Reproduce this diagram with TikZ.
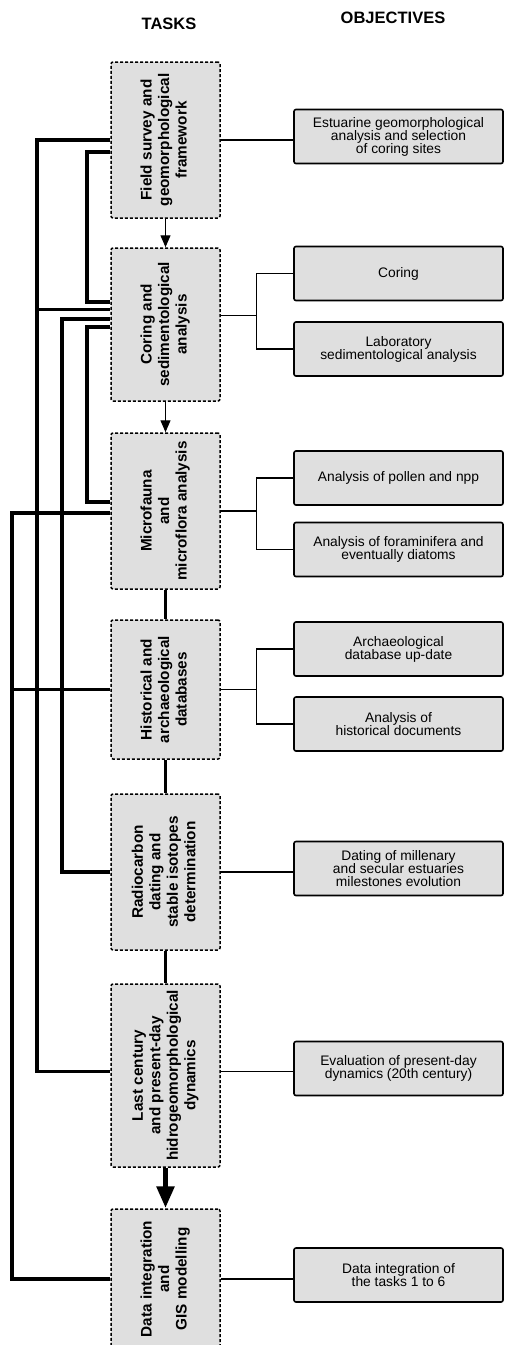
\documentclass[tikz,border=0pt]{standalone}
\usepackage{fontspec}
\setmainfont{Liberation Sans}
\usetikzlibrary{arrows.meta}
\newcommand{\vtext}[1]{\rotatebox{90}{\begin{tabular}{@{}c@{}}#1\end{tabular}}}

\begin{document}
\begin{tikzpicture}[x=1pt,y=-1pt,
  task/.style={draw,densely dashed,line width=1.5pt,fill=gray!25,rounded corners=2pt,minimum width=109pt,inner sep=0pt,font=\bfseries\fontsize{15.3}{17.5}\selectfont},
  obj/.style={draw,line width=1.6pt,fill=gray!25,rounded corners=2pt,minimum width=209pt,minimum height=54pt,inner sep=0pt,align=center,font=\fontsize{13.8}{13}\selectfont},
  link/.style={line width=1.1pt},
  back/.style={line width=3.2pt},
  title/.style={font=\bfseries\fontsize{16.5}{18}\selectfont}]
\useasboundingbox (0,0) rectangle (505,1345);
\node[title] (tt) at (169,24) {TASKS};
\node[title] (to) at (393,18) {OBJECTIVES};
\node[task,minimum height=156pt] (t1) at (165.5,140) {\vtext{Field survey and\\geomorphological\\framework}};
\node[task,minimum height=153pt] (t2) at (165.5,324.5) {\vtext{Coring and\\sedimentological\\analysis}};
\node[task,minimum height=156pt] (t3) at (165.5,511) {\vtext{Microfauna\\and\\microflora analysis}};
\node[task,minimum height=139pt] (t4) at (165.5,689.5) {\vtext{Historical and\\archaeological\\databases}};
\node[task,minimum height=156pt] (t5) at (165.5,872) {\vtext{Radiocarbon\\dating and\\stable isotopes\\determination}};
\node[task,minimum height=183pt] (t6) at (165.5,1075.5) {\vtext{Last century\\and present-day\\hidrogeomorphological\\dynamics}};
\node[task,minimum height=140pt] (t7) at (165.5,1279) {\vtext{Data integration\\and\\GIS modelling}};
\node[obj] (o1) at (398.5,136.5) {Estuarine geomorphological\\analysis and selection\\of coring sites};
\node[obj] (o2) at (398.5,273.5) {Coring};
\node[obj] (o3) at (398.5,349) {Laboratory\\sedimentological analysis};
\node[obj] (o4) at (398.5,478) {Analysis of pollen and npp};
\node[obj] (o5) at (398.5,549.5) {Analysis of foraminifera and\\eventually diatoms};
\node[obj] (o6) at (398.5,649) {Archaeological\\database up-date};
\node[obj] (o7) at (398.5,724) {Analysis of\\historical documents};
\node[obj] (o8) at (398.5,868.5) {Dating of millenary\\and secular estuaries\\milestones evolution};
\node[obj] (o9) at (398.5,1068.5) {Evaluation of present-day\\dynamics (20th century)};
\node[obj] (o10) at (398.5,1275) {Data integration of\\the tasks 1 to 6};
\coordinate (busa) at (12,0);
\coordinate (busb) at (37,0);
\coordinate (busc) at (62,0);
\coordinate (busd) at (87,0);
\draw[link] (t1.east) -- (t1.east -| o1.west);
\draw[link] ([yshift=9pt]t2.east) -| ([xshift=-37pt]o2.west) -- (o2.west);
\draw[link] ([yshift=9pt]t2.east) -| ([xshift=-37pt]o3.west) -- (o3.west);
\draw[link] (t3.east) -| ([xshift=-37pt]o4.west) -- (o4.west);
\draw[link] (t3.east) -| ([xshift=-37pt]o5.west) -- (o5.west);
\draw[link] (t4.east) -| ([xshift=-37pt]o6.west) -- (o6.west);
\draw[link] (t4.east) -| ([xshift=-37pt]o7.west) -- (o7.west);
\draw[link] (t5.east) -- (t5.east -| o8.west);
\draw[link] ([yshift=4pt]t6.east) -- ([yshift=4pt]t6.east -| o9.west);
\draw[link] (t7.east) -- (t7.east -| o10.west);
\draw[link,-{Triangle[width=10pt,length=12pt]}] (t1) -- (t2);
\draw[link,-{Triangle[width=10pt,length=12pt]}] (t2) -- (t3);
\draw[back] (t3) -- (t4);
\draw[back] (t4) -- (t5);
\draw[back] (t5) -- (t6);
\draw[line width=5.5pt,-{Triangle[width=17pt,length=22pt]}] (t6) -- (t7);
\draw[back] (t1.west) -- (t1.west -| busb) |- ([yshift=4pt]t6.west);
\draw[back] ([yshift=15pt]t2.west) -- ([yshift=15pt]t2.west -| busb);
\draw[back] ([yshift=-12pt]t1.west) -- ([yshift=-12pt]t1.west -| busd) |- ([yshift=22.5pt]t2.west);
\draw[back] ([yshift=5.5pt]t2.west) -- ([yshift=5.5pt]t2.west -| busc) |- (t5.west);
\draw[back] ([yshift=-2.5pt]t2.west) -- ([yshift=-2.5pt]t2.west -| busd) |- ([yshift=9pt]t3.west);
\draw[back] ([yshift=-2pt]t3.west) -- ([yshift=-2pt]t3.west -| busa) |- (t7.west);
\draw[back] (t4.west) -- (t4.west -| busa);
\end{tikzpicture}
\end{document}
